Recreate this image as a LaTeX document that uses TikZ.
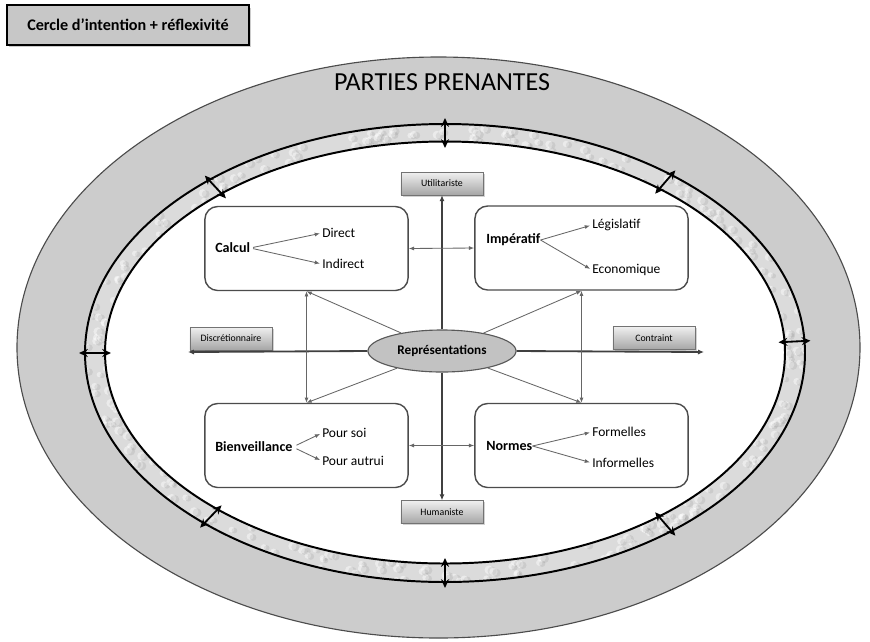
\documentclass[tikz,border=0pt]{standalone}
\usepackage{fontspec}
\setmainfont{Carlito}
\usetikzlibrary{arrows.meta,shapes.geometric,shadows,calc}

\tikzset{
  axisbox/.style={draw=black!55, top color=black!6, bottom color=black!35, minimum width=2.05cm, minimum height=0.57cm, inner sep=0pt, font=\fontsize{7}{8}\selectfont, drop shadow={opacity=0.35, shadow xshift=0.4mm, shadow yshift=-0.4mm}},
  framebox/.style={draw=black!70, line width=1pt, rounded corners=0.32cm, fill=white, minimum height=2.1cm},
  headtext/.style={anchor=west, inner sep=0pt, font=\fontsize{10}{11}\selectfont\bfseries},
  itemtext/.style={anchor=west, inner sep=0pt, font=\fontsize{9.6}{11}\selectfont},
  thinarrow/.style={draw=black!60, line width=0.6pt, -{Latex[length=1.3mm,width=1mm]}},
  twoarrow/.style={draw=black!60, line width=0.6pt, {Latex[length=1.3mm,width=1mm]}-{Latex[length=1.3mm,width=1mm]}},
  axisline/.style={draw=black!75, line width=1.3pt, -{Latex[length=1.5mm,width=1.3mm]}},
  ringarrow/.style={draw=black, line width=1.3pt, {Stealth[length=2.2mm,width=2mm]}-{Stealth[length=2.2mm,width=2mm]}}
}

\begin{document}
\begin{tikzpicture}[x=0.025cm, y=-0.025cm]
\useasboundingbox (0,0) rectangle (870,641);

% stakeholders and the reflexive ring
\draw[black!70, line width=0.8pt, fill=black!20] (438.5,347.5) ellipse [x radius=421.5, y radius=290.5];
\fill[black!14] (445,353) ellipse [x radius=360, y radius=229];
\begin{scope}
  \clip (445,353) ellipse [x radius=360, y radius=229];
  \pgfmathsetseed{7}
  \foreach \i in {1,...,260}{
    \pgfmathsetmacro{\t}{rnd*360}
    \pgfmathsetmacro{\r}{rnd}
    \pgfmathsetmacro{\px}{445+(340+20*\r)*cos(\t)}
    \pgfmathsetmacro{\py}{353+(211+18*\r)*sin(\t)}
    \pgfmathsetmacro{\s}{2.5+2*rnd}
    \fill[white, opacity=0.45] (\px,\py) circle (\s);
    \fill[black, opacity=0.07] (\px+3,\py+1) circle (\s);
  }
\end{scope}
\draw[line width=1.4pt] (445,353) ellipse [x radius=360, y radius=229];
\draw[line width=1.4pt, fill=white] (445,352.5) ellipse [x radius=340, y radius=211];
\foreach \a in {3,51,90,131,180,228,270,309}{
  \coordinate (ro\a) at ($(445,353)+(-\a:366 and 235)$);
}
\node[font=\fontsize{18.5}{20}\selectfont] (parties) at (442,82) {PARTIES PRENANTES};

% title
\node[draw, line width=1.5pt, fill=black!22, minimum width=6.05cm, minimum height=0.98cm, font=\fontsize{11.5}{12}\selectfont\bfseries, drop shadow={opacity=0.4, shadow xshift=0.5mm, shadow yshift=-0.6mm}] (titre) at (128,25) {Cercle d'intention + réflexivité};

% four boxes
\node[framebox, minimum width=5.08cm] (calculbox) at (306.5,248.5) {};
\node[framebox, minimum width=5.33cm] (imperatifbox) at (581.5,248) {};
\node[framebox, minimum width=5.08cm] (bienbox) at (306.5,445.5) {};
\node[framebox, minimum width=5.33cm] (normesbox) at (581.5,445.5) {};

\node[headtext] (calcul) at (215,248) {Calcul};
\node[itemtext] (direct) at (322,233) {Direct};
\node[itemtext] (indirect) at (322,264) {Indirect};
\node[headtext] (imperatif) at (486,240) {Impératif};
\node[itemtext] (legislatif) at (592,225) {Législatif};
\node[itemtext] (economique) at (592,270) {Economique};
\node[headtext] (bienveillance) at (215,447) {Bienveillance};
\node[itemtext] (poursoi) at (322,433) {Pour soi};
\node[itemtext] (pourautrui) at (322,461) {Pour autrui};
\node[headtext] (normes) at (486,446) {Normes};
\node[itemtext] (formelles) at (592,432) {Formelles};
\node[itemtext] (informelles) at (592,463) {Informelles};

\draw[thinarrow, shorten <=2pt, shorten >=1.5pt] (calcul.east) -- (direct.west);
\draw[thinarrow, shorten <=2pt, shorten >=1.5pt] (calcul.east) -- (indirect.west);
\draw[thinarrow, shorten >=1.5pt] (imperatif.east) -- (legislatif.west);
\draw[thinarrow, shorten >=1.5pt] (imperatif.east) -- (economique.west);
\draw[thinarrow, shorten <=3pt, shorten >=1.5pt] (bienveillance.east) -- (poursoi.west);
\draw[thinarrow, shorten <=3pt, shorten >=1.5pt] (bienveillance.east) -- (pourautrui.west);
\draw[thinarrow, shorten >=1.5pt] (normes.east) -- (formelles.west);
\draw[thinarrow, shorten >=1.5pt] (normes.east) -- (informelles.west);

% axes
\node[axisbox] (util) at (442,183.5) {Utilitariste};
\node[axisbox] (human) at (442,512) {Humaniste};
\node[axisbox] (discr) at (231,338.5) {Discrétionnaire};
\node[axisbox] (contraint) at (654,338) {Contraint};
\coordinate (axisW) at (188,352);
\coordinate (axisE) at (704,352);

\node[ellipse, draw=black!65, line width=0.8pt, fill=black!24, minimum width=3.7cm, minimum height=1.05cm, inner sep=0pt, font=\fontsize{9.4}{10}\selectfont\bfseries] (repr) at (442,351) {Représentations};

\draw[axisline] (repr.north) -- (util.south);
\draw[axisline] (repr.south) -- (human.north);
\draw[axisline] (repr.west) -- (axisW);
\draw[axisline] (repr.east) -- (axisE);

\draw[twoarrow] (calculbox.east) -- (imperatifbox.west);
\draw[twoarrow] (bienbox.east) -- (normesbox.west);
\draw[twoarrow] (calculbox.south) -- (bienbox.north);
\draw[twoarrow] (imperatifbox.south) -- (normesbox.north);
\draw[thinarrow] (repr) -- (calculbox.south);
\draw[thinarrow] (repr) -- (imperatifbox.south);
\draw[thinarrow] (repr) -- (bienbox.north);
\draw[thinarrow] (repr) -- (normesbox.north);

% ring arrows
\foreach \a in {3,51,90,131,180,228,270,309}{
  \coordinate (ri\a) at ($(445,353)+(-\a:334 and 205)$);
  \draw[ringarrow] (ro\a) -- (ri\a);
}
\end{tikzpicture}
\end{document}
